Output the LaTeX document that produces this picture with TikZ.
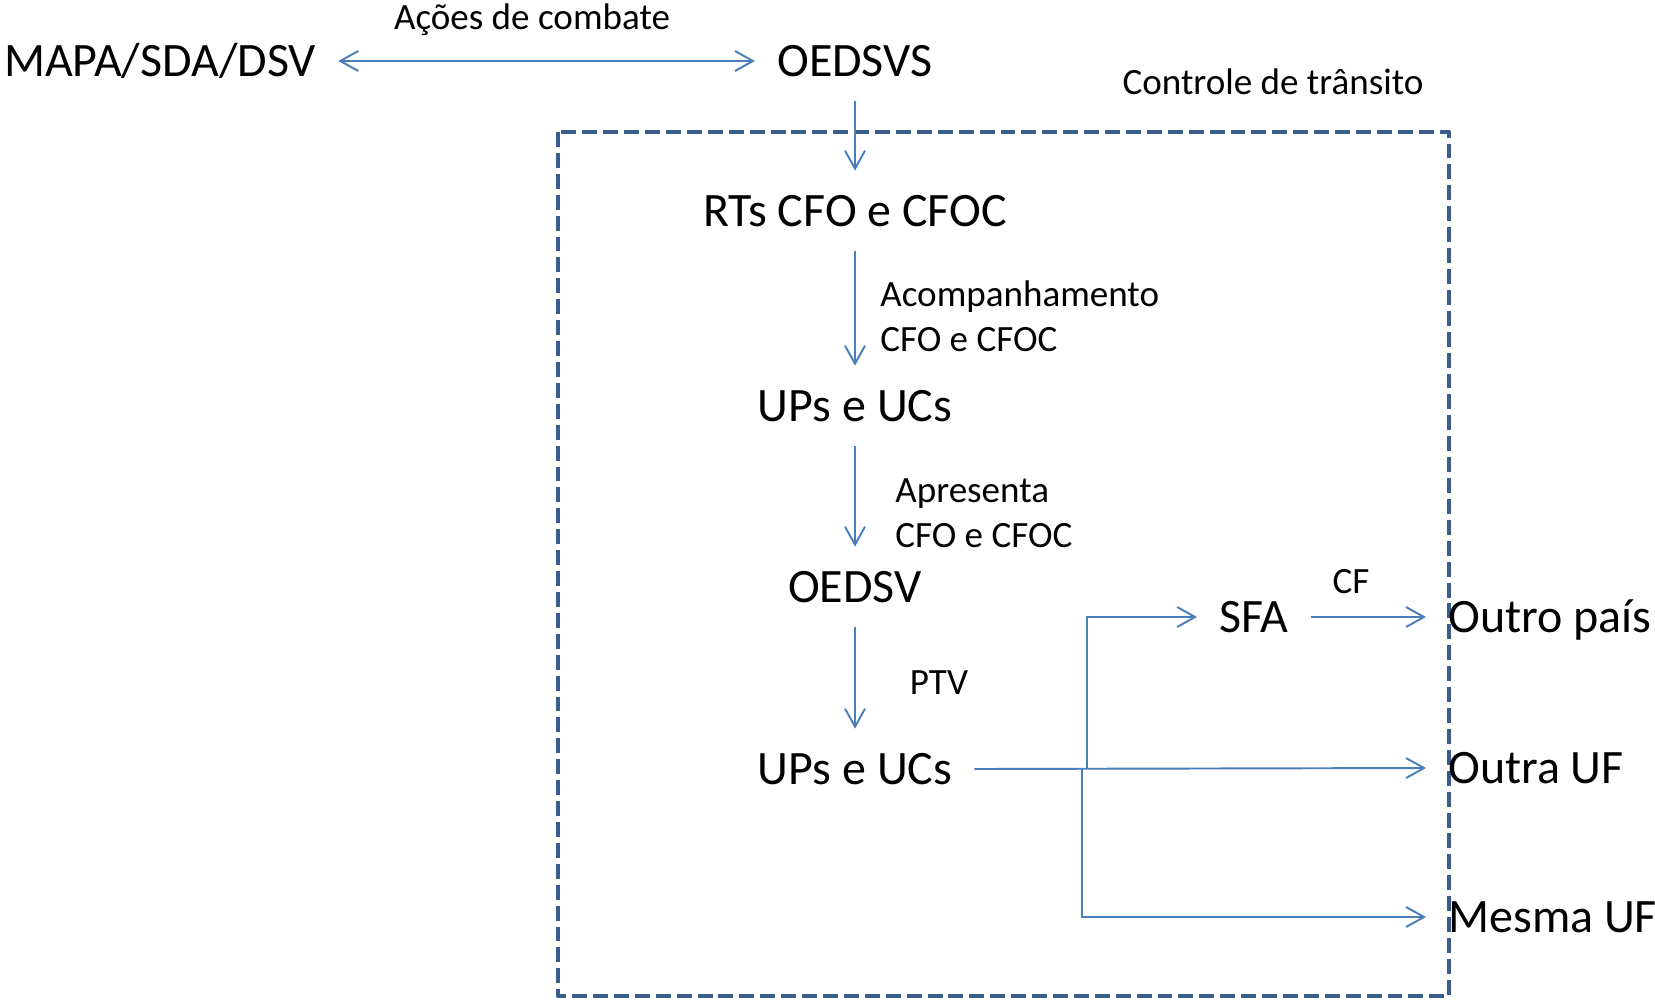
\documentclass[tikz,border=0pt]{standalone}
\usepackage{fontspec}
\setmainfont{Carlito}
\usepackage{tikz}
\usetikzlibrary{positioning,arrows.meta}

\definecolor{flowblue}{HTML}{4A7EBB}
\definecolor{boxblue}{HTML}{385D8A}

\begin{document}
\begin{tikzpicture}[x=0.02cm, y=-0.02cm]
  \tikzset{
    big/.style={font=\fontsize{27.3}{32}\selectfont, text height=0.62cm, text depth=0cm,
      inner xsep=0.44cm, inner ysep=0.49cm},
    lbl/.style={font=\fontsize{21.1}{25.6}\selectfont, inner sep=0, align=left},
    arr/.style={-{Straight Barb[length=3.6mm, width=4mm]}, flowblue, line width=1.1pt},
    dblarr/.style={{Straight Barb[length=3.6mm, width=4mm]}-{Straight Barb[length=3.6mm, width=4mm]}, flowblue, line width=1.1pt},
    frame/.style={boxblue, line width=2.6pt, dash pattern=on 8.5pt off 3.4pt, line join=round}
  }
  \useasboundingbox (0,0) rectangle (1655,1000);

  % transit control area
  \draw[frame] (558,132) rectangle (1449,996);
  \node[lbl] (transito) at (1273,82) {Controle de trânsito};

  \node[big] (mapa)   at (160,61)  {MAPA/SDA/DSV};
  \node[big] (oedsvs) at (855,61)  {OEDSVS};
  \node[lbl] (acoes)  at (532,20)  {Ações de combate};

  \node[big] (rts)  at (855,211) {RTs CFO e CFOC};
  \node[big] (ups)  at (855,406) {UPs e UCs};
  \node[big] (oedsv) at (855,587) {OEDSV};
  \node[big] (ups2) at (855,769) {UPs e UCs};

  \node[big] (sfa) at (1254,617) {SFA};
  \node[big, anchor=west] (outropais) at (1426,617) {Outro país};
  \node[big, anchor=west] (outrauf)   at (1426,768) {Outra UF};
  \node[big, anchor=west] (mesmauf)   at (1426,917) {Mesma UF};

  \node[lbl, anchor=west] (acomp) at (880,316) {Acompanhamento\\CFO e CFOC};
  \node[lbl, anchor=west] (apres) at (895,513) {Apresenta\\CFO e CFOC};
  \node[lbl] (ptv) at (939,683) {PTV};
  \node[lbl] (cf)  at (1351,582) {CF};

  \draw[dblarr] (mapa) -- (oedsvs);
  \draw[arr] (oedsvs) -- (rts);
  \draw[arr] (rts) -- (ups);
  \draw[arr] (ups) -- (oedsv);
  \draw[arr] (oedsv) -- (ups2);

  % branches towards the destinations
  \coordinate (splitA) at (1087,768);
  \coordinate (splitB) at (1082,768);
  \draw[arr] (ups2.east) -- (outrauf.west);
  \draw[arr] (splitA) |- (sfa.west);
  \draw[arr] (splitB) |- (mesmauf.west);
  \draw[arr] (sfa) -- (outropais);
\end{tikzpicture}
\end{document}
